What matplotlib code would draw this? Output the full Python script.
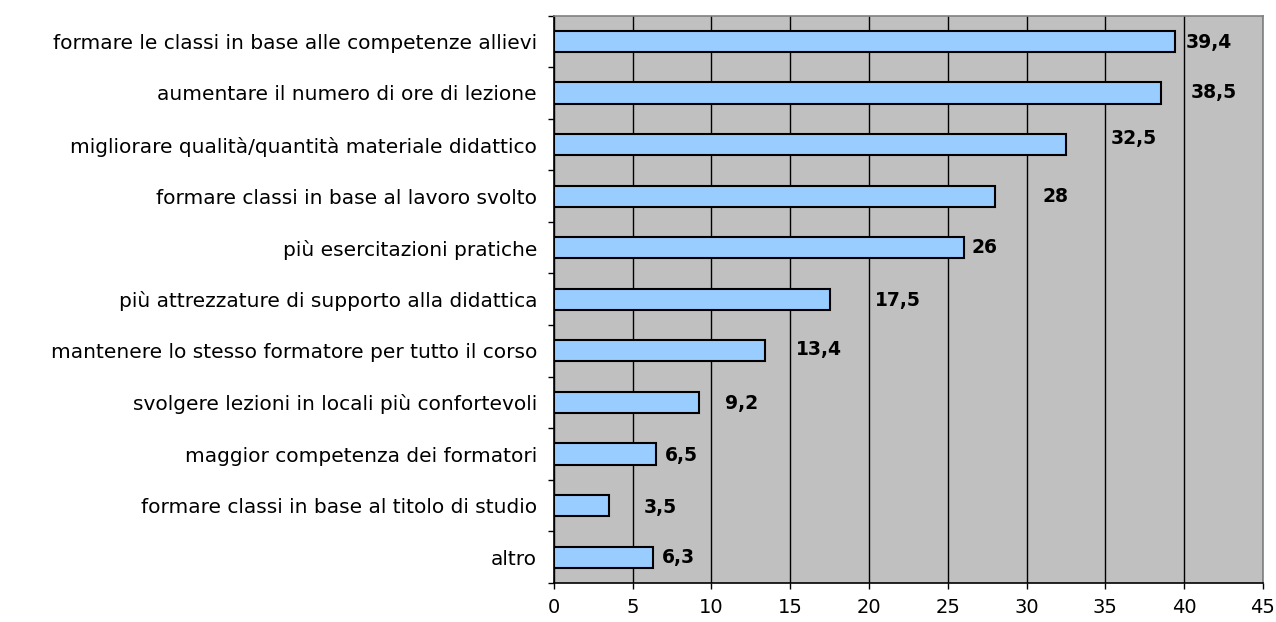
import numpy as np
import matplotlib.pyplot as plt
from matplotlib.ticker import MultipleLocator

categories = [
    "formare le classi in base alle competenze allievi",
    "aumentare il numero di ore di lezione",
    "migliorare qualità/quantità materiale didattico",
    "formare classi in base al lavoro svolto",
    "più esercitazioni pratiche",
    "più attrezzature di supporto alla didattica",
    "mantenere lo stesso formatore per tutto il corso",
    "svolgere lezioni in locali più confortevoli",
    "maggior competenza dei formatori",
    "formare classi in base al titolo di studio",
    "altro",
]
values = [39.4, 38.5, 32.5, 28, 26, 17.5, 13.4, 9.2, 6.5, 3.5, 6.3]
value_labels = ["39,4", "38,5", "32,5", "28", "26", "17,5", "13,4", "9,2", "6,5", "3,5", "6,3"]
# label offsets (points) - data labels were moved by hand in the original
label_dx = [8, 22, 32, 34, 6, 33, 22, 19, 6, 25, 6]
label_dy = [-1, 0, 4, 0, 0, -1, 1, -1, -1, -1, 0]

plt.rcParams['font.family'] = ['DejaVu Sans']

fig = plt.figure(figsize=(12.76, 6.22), dpi=100)
ax = fig.add_axes([0.434, 0.0627, 0.5558, 0.9123])
ax.set_facecolor("#C0C0C0")

n = len(categories)
y = np.arange(n)
ax.barh(y, values, height=0.41, color="#99CCFF", edgecolor="black", linewidth=1.5, zorder=3)

for i in range(n):
    ax.annotate(value_labels[i], xy=(values[i], y[i]), xytext=(label_dx[i], label_dy[i]),
                textcoords="offset points", ha="left", va="center",
                fontsize=13.5, fontweight="bold", color="black", zorder=4)

ax.set_xlim(0, 45)
ax.set_ylim(n - 0.5, -0.5)
ax.xaxis.set_major_locator(MultipleLocator(5))
ax.grid(axis="x", color="black", linewidth=1, zorder=1)
ax.set_axisbelow(True)

ax.set_yticks(y)
ax.set_yticklabels(categories, fontsize=14.5)
ax.set_yticks(np.arange(n + 1) - 0.5, minor=True)
ax.tick_params(axis="y", which="major", length=0, pad=12)
ax.tick_params(axis="y", which="minor", length=4, width=1, direction="out")
ax.tick_params(axis="x", length=4, width=1, direction="out", pad=7, labelsize=14)

ax.spines["left"].set_color("black")
ax.spines["bottom"].set_color("black")
ax.spines["top"].set_color("#808080")
ax.spines["right"].set_color("#808080")
for s in ax.spines.values():
    s.set_linewidth(1.2)

fig.savefig("out.png", dpi=100)
